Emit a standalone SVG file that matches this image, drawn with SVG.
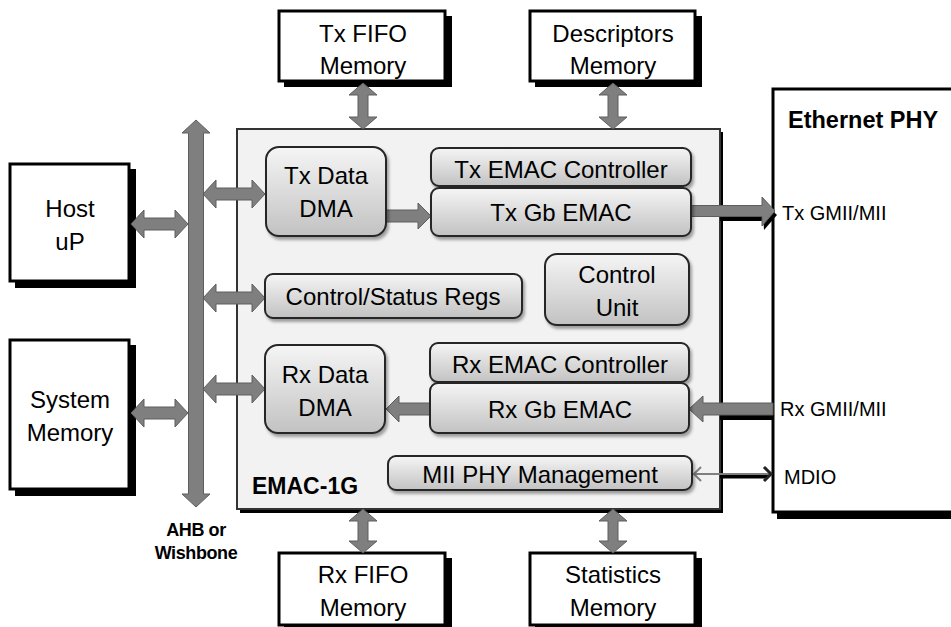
<svg xmlns="http://www.w3.org/2000/svg" width="951" height="627" viewBox="0 0 951 627">
<defs>
<linearGradient id="ng" x1="0" y1="0" x2="0" y2="1">
<stop offset="0" stop-color="#f5f5f5"/>
<stop offset="1" stop-color="#c2c2c2"/>
</linearGradient>
<filter id="sh" x="-10%" y="-10%" width="130%" height="140%">
<feDropShadow dx="2" dy="3" stdDeviation="1.5" flood-color="#000" flood-opacity="0.35"/>
</filter>
</defs>
<style>
.t{font-family:"Liberation Sans",Arial,sans-serif;font-size:24px;fill:#000;text-anchor:middle}
.s{font-family:"Liberation Sans",Arial,sans-serif;font-size:20px;fill:#000}
.b{font-family:"Liberation Sans",Arial,sans-serif;font-weight:bold;fill:#000}
.box{fill:#fff;stroke:#000;stroke-width:3}
.shd{fill:#000}
.node{fill:url(#ng);stroke:#262626;stroke-width:2;filter:url(#sh)}
.ar{fill:#7f7f7f;stroke:#5e5e5e;stroke-width:1}
</style>
<rect width="951" height="627" fill="#fff"/>

<!-- outer boxes -->
<g id="txfifo">
<rect class="shd" x="284" y="16" width="168" height="71"/>
<rect class="box" x="279" y="11" width="166" height="70"/>
<text class="t" x="363" y="42">Tx FIFO</text>
<text class="t" x="363" y="74">Memory</text>
</g>
<g id="descmem">
<rect class="shd" x="535" y="16" width="167" height="71"/>
<rect class="box" x="530" y="11" width="165" height="70"/>
<text class="t" x="613" y="42">Descriptors</text>
<text class="t" x="613" y="74">Memory</text>
</g>
<g id="host">
<rect class="shd" x="15" y="169" width="121" height="119"/>
<rect class="box" x="10" y="164" width="119" height="117"/>
<text class="t" x="70" y="217">Host</text>
<text class="t" x="70" y="250">uP</text>
</g>
<g id="sysmem">
<rect class="shd" x="15" y="345" width="121" height="151"/>
<rect class="box" x="10" y="340" width="119" height="149"/>
<text class="t" x="70" y="408">System</text>
<text class="t" x="70" y="441">Memory</text>
</g>
<g id="phy">
<rect class="shd" x="777" y="94" width="180" height="425"/>
<rect class="box" x="773" y="89" width="190" height="423"/>
<text class="b" x="788" y="128" font-size="23.5">Ethernet PHY</text>
<text class="s" x="782" y="220">Tx GMII/MII</text>
<text class="s" x="780" y="416">Rx GMII/MII</text>
<text class="s" x="784" y="484">MDIO</text>
</g>
<g id="rxfifo">
<rect class="shd" x="284" y="558" width="168" height="71"/>
<rect class="box" x="279" y="553" width="166" height="72"/>
<text class="t" x="363" y="583">Rx FIFO</text>
<text class="t" x="363" y="616">Memory</text>
</g>
<g id="statmem">
<rect class="shd" x="535" y="558" width="167" height="71"/>
<rect class="box" x="530" y="553" width="165" height="72"/>
<text class="t" x="613" y="583">Statistics</text>
<text class="t" x="613" y="616">Memory</text>
</g>

<!-- EMAC-1G container -->
<g id="emac">
<rect x="240" y="132" width="483" height="381" fill="#000"/>
<rect x="237" y="129" width="483" height="380" fill="#f2f2f2" stroke="#333" stroke-width="2"/>
<text class="b" x="252" y="494" font-size="23">EMAC-1G</text>
</g>

<!-- connectors -->
<g id="connectors">
<!-- bus -->
<path class="ar" d="M196,120 L210,133 L203.5,133 L203.5,494 L210,494 L196,507 L182,494 L188.5,494 L188.5,133 L182,133 Z"/>
<!-- host <-> bus -->
<path class="ar" d="M131,224 L144,210 L144,218 L175,218 L175,210 L188,224 L175,238 L175,230 L144,230 L144,238 Z"/>
<!-- sysmem <-> bus -->
<path class="ar" d="M131,413 L144,399 L144,407 L175,407 L175,399 L188,413 L175,427 L175,419 L144,419 L144,427 Z"/>
<!-- bus <-> tx dma -->
<path class="ar" d="M203,194 L216,180 L216,188 L252,188 L252,180 L265,194 L252,208 L252,200 L216,200 L216,208 Z"/>
<!-- bus <-> csr -->
<path class="ar" d="M203,298 L216,284 L216,292 L252,292 L252,284 L265,298 L252,312 L252,304 L216,304 L216,312 Z"/>
<!-- bus <-> rx dma -->
<path class="ar" d="M203,389 L216,375 L216,383 L252,383 L252,375 L265,389 L252,403 L252,395 L216,395 L216,403 Z"/>
<!-- tx fifo <-> emac -->
<path class="ar" d="M363,83 L377,95 L368,95 L368,117 L377,117 L363,129 L349,117 L358,117 L358,95 L349,95 Z"/>
<!-- desc <-> emac -->
<path class="ar" d="M613,83 L627,95 L618,95 L618,117 L627,117 L613,129 L599,117 L608,117 L608,95 L599,95 Z"/>
<!-- emac <-> rx fifo -->
<path class="ar" d="M363,509 L377,521 L368,521 L368,541 L377,541 L363,553 L349,541 L358,541 L358,521 L349,521 Z"/>
<!-- emac <-> stats -->
<path class="ar" d="M613,509 L627,521 L618,521 L618,541 L627,541 L613,553 L599,541 L608,541 L608,521 L599,521 Z"/>
<!-- tx dma -> tx gb emac -->
<path class="ar" d="M386,210 L418,210 L418,203 L431,216 L418,229 L418,222 L386,222 Z"/>
<!-- rx gb emac -> rx dma -->
<path class="ar" d="M430,403 L399,403 L399,396 L386,409 L399,422 L399,415 L430,415 Z"/>
<!-- tx gmii -->
<rect x="720" y="210" width="50" height="11" fill="#000"/>
<path d="M762,201 L777,215 L764,230 Z" fill="#000"/>
<path class="ar" d="M691,205.5 L762,205.5 L762,197 L775,211 L762,226 L762,216.5 L691,216.5 Z"/>
<!-- rx gmii -->
<rect x="720" y="409" width="53" height="11" fill="#000"/>
<path class="ar" d="M773,403 L703,403 L703,396 L689,409 L703,422 L703,415 L773,415 Z"/>
<!-- mdio -->
<line x1="720" y1="476.5" x2="768" y2="476.5" stroke="#000" stroke-width="4"/>
<line x1="694" y1="474" x2="771" y2="474" stroke="#7f7f7f" stroke-width="2"/>
<path d="M701,467 L694,474 L701,481" fill="none" stroke="#7f7f7f" stroke-width="2"/>
<path d="M764,467 L771,474 L764,481" fill="none" stroke="#222" stroke-width="3"/>
</g>

<!-- inner nodes -->
<g id="txdma">
<rect class="node" x="266" y="147" width="120" height="89" rx="13"/>
<text class="t" x="326" y="184">Tx Data</text>
<text class="t" x="326" y="217">DMA</text>
</g>
<g id="txctrl">
<rect class="node" x="431" y="148" width="260" height="38" rx="8"/>
<text class="t" x="561" y="178">Tx EMAC Controller</text>
</g>
<g id="txgb">
<rect class="node" x="431" y="188" width="260" height="48" rx="8"/>
<text class="t" x="561" y="221">Tx Gb EMAC</text>
</g>
<g id="csr">
<rect class="node" x="265" y="274" width="257" height="44" rx="8"/>
<text class="t" x="393" y="305">Control/Status Regs</text>
</g>
<g id="ctrlunit">
<rect class="node" x="545" y="254" width="144" height="71" rx="12"/>
<text class="t" x="617" y="283">Control</text>
<text class="t" x="617" y="316">Unit</text>
</g>
<g id="rxdma">
<rect class="node" x="265" y="345" width="120" height="88" rx="13"/>
<text class="t" x="325" y="383">Rx Data</text>
<text class="t" x="325" y="416">DMA</text>
</g>
<g id="rxctrl">
<rect class="node" x="430" y="343" width="259" height="39" rx="8"/>
<text class="t" x="560" y="373">Rx EMAC Controller</text>
</g>
<g id="rxgb">
<rect class="node" x="430" y="383" width="259" height="50" rx="8"/>
<text class="t" x="560" y="418">Rx Gb EMAC</text>
</g>
<g id="miimgmt">
<rect class="node" x="388" y="456" width="304" height="34" rx="8"/>
<text class="t" x="540" y="483">MII PHY Management</text>
</g>
<g id="buslabel">
<text class="b" x="196" y="536" font-size="18" text-anchor="middle" letter-spacing="-0.4">AHB or</text>
<text class="b" x="196" y="559" font-size="18" text-anchor="middle" letter-spacing="-0.4">Wishbone</text>
</g>
</svg>
